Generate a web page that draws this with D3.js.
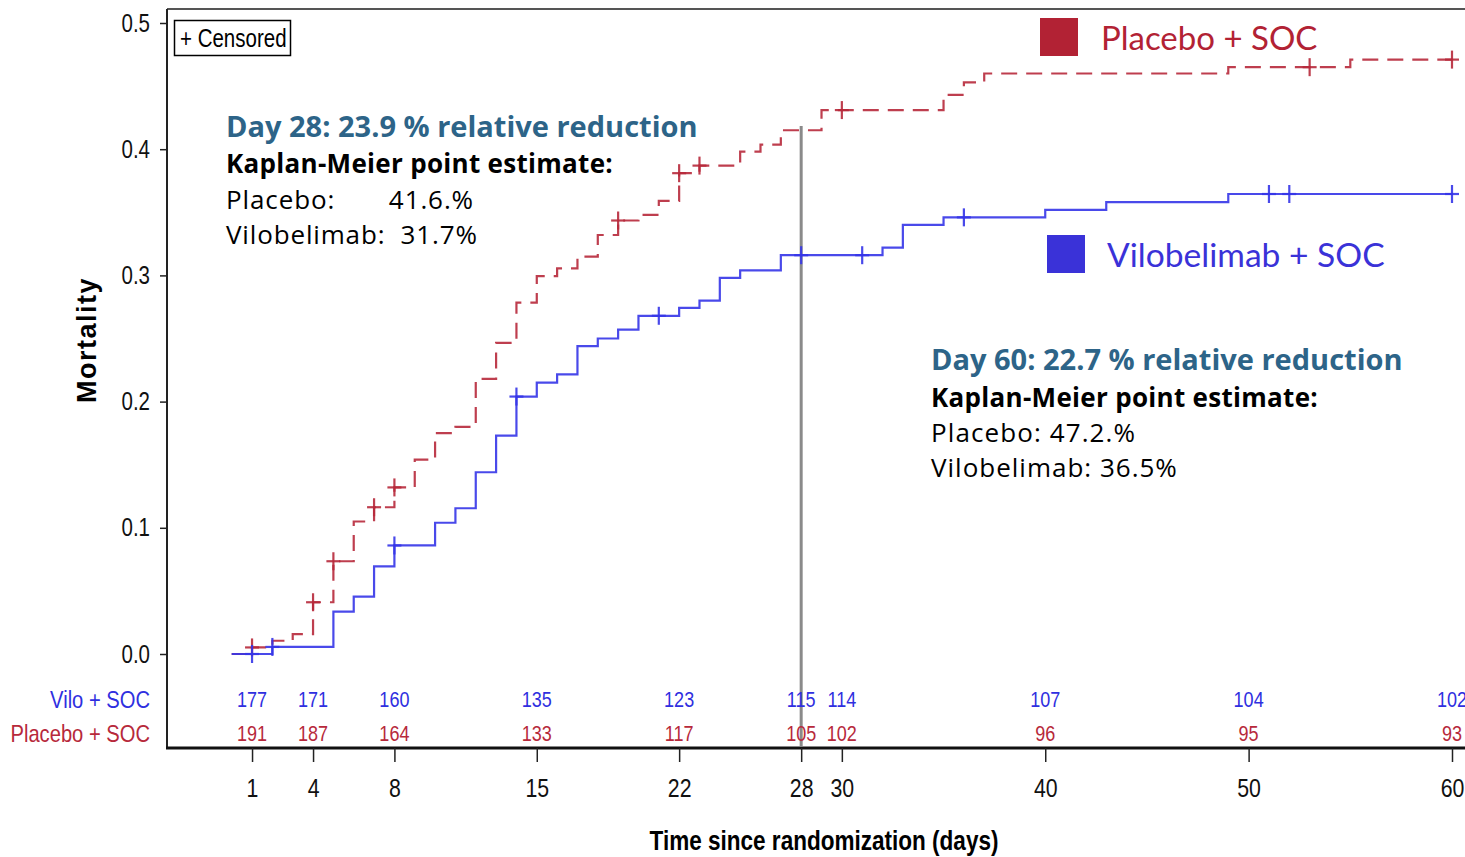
<!DOCTYPE html>
<html><head><meta charset="utf-8">
<script src="https://cdn.jsdelivr.net/npm/d3@7"></script>
<style>
html,body{margin:0;padding:0;background:#fff;}
svg{display:block;}
</style></head>
<body>
<svg id="c" width="1465" height="857"></svg>
<script>
// ---------- data ----------
const xTicks = [1, 4, 8, 15, 22, 28, 30, 40, 50, 60];
const yTicks = [0.0, 0.1, 0.2, 0.3, 0.4, 0.5];
const viloAtRisk    = [177, 171, 160, 135, 123, 115, 114, 107, 104, 102];
const placeboAtRisk = [191, 187, 164, 133, 117, 105, 102, 96, 95, 93];

// step events: day, cumulative mortality after the step
const viloDays = [0, 2, 5, 6, 7, 8, 10, 11, 12, 13, 14, 15, 16, 17, 18, 19, 20, 22, 23, 24, 25, 27, 32, 33, 35, 40, 43, 49, 60];
const viloVals = [0, 0.0056, 0.0336, 0.0455, 0.0695, 0.086, 0.104, 0.1155, 0.144, 0.173, 0.204, 0.215, 0.2215, 0.244, 0.250, 0.257, 0.268, 0.2743, 0.280, 0.298, 0.304, 0.316, 0.322, 0.340, 0.346, 0.352, 0.358, 0.3645, 0.3645];
const placeboDays = [0, 1, 2, 3, 4, 5, 6, 7, 8, 9, 10, 11, 12, 13, 14, 15, 16, 17, 18, 19, 20, 21, 22, 23, 25, 26, 27, 29, 35, 36, 37, 49, 55, 60];
const placeboVals = [0, 0.0052, 0.0105, 0.0157, 0.041, 0.0735, 0.105, 0.1163, 0.132, 0.154, 0.175, 0.180, 0.218, 0.2465, 0.2784, 0.2995, 0.3056, 0.3148, 0.332, 0.3435, 0.348, 0.359, 0.381, 0.387, 0.398, 0.4037, 0.415, 0.431, 0.443, 0.453, 0.460, 0.465, 0.471, 0.471];

const viloCensorDays = [1, 2, 8, 14, 21, 28, 31, 36, 51, 52, 60];
const viloCensorVals = [0, 0.0056, 0.086, 0.204, 0.268, 0.316, 0.316, 0.346, 0.3645, 0.3645, 0.3645];
const placeboCensorDays = [1, 4, 5, 7, 8, 19, 22, 23, 30, 53, 60];
const placeboCensorVals = [0.0052, 0.041, 0.0735, 0.1163, 0.132, 0.3435, 0.381, 0.387, 0.431, 0.465, 0.471];

const refDay = 28;

// ---------- styles ----------
const RED = "#B7293B", BLUE = "#3535E8";
const SANS = "'Liberation Sans',Arial,sans-serif";
const NARROW_K = 0.82;
const ANNO = "'Open Sans','Noto Sans',sans-serif";

const svg = d3.select("#c");
const x = d3.scaleLinear().domain([0, 60]).range([231.7, 1452]);
const y = d3.scaleLinear().domain([0, 0.5]).range([654, 23]);

const frame = {l: 167, t: 9, b: 748, r: 1475};

// narrow text helper (condensed Arial look)
function narrow(parent, tx, ty, txt, size, color, anchor, weight) {
  return parent.append("text")
    .attr("transform", `translate(${tx},${ty}) scale(${NARROW_K},1)`)
    .attr("dy", "0.35em").attr("text-anchor", anchor || "start")
    .attr("font-family", SANS).attr("font-size", size).attr("font-weight", weight || "normal")
    .attr("fill", color).text(txt);
}

// frame
svg.append("line").attr("x1", frame.l).attr("x2", frame.r).attr("y1", frame.t).attr("y2", frame.t)
  .attr("stroke", "#555").attr("stroke-width", 2);
svg.append("line").attr("x1", frame.l).attr("x2", frame.l).attr("y1", frame.t).attr("y2", frame.b)
  .attr("stroke", "#222").attr("stroke-width", 2);
svg.append("line").attr("x1", frame.l - 1).attr("x2", frame.r).attr("y1", frame.b).attr("y2", frame.b)
  .attr("stroke", "#111").attr("stroke-width", 3);

// y axis
const yAxis = d3.axisLeft(y).tickValues(yTicks).tickFormat(d3.format(".1f")).tickSize(7).tickPadding(0);
const gy = svg.append("g").attr("transform", `translate(${frame.l},0)`).call(yAxis);
gy.select(".domain").remove();
gy.selectAll("line").attr("stroke", "#222").attr("stroke-width", 1.5);
gy.selectAll("text").attr("x", null).attr("transform", `translate(-17,0) scale(${NARROW_K},1)`)
  .attr("font-family", SANS).attr("font-size", 25).attr("fill", "#111");

// x axis at bottom of frame
const xAxis = d3.axisBottom(x).tickValues(xTicks).tickFormat(d3.format("d")).tickSize(14).tickPadding(0);
const gx = svg.append("g").attr("transform", `translate(0,${frame.b})`).call(xAxis);
gx.select(".domain").remove();
gx.selectAll("line").attr("stroke", "#222").attr("stroke-width", 1.5);
gx.selectAll("text").attr("y", null).attr("dy", "0.35em")
  .attr("transform", `translate(0,40) scale(${NARROW_K},1)`)
  .attr("font-family", SANS).attr("font-size", 26).attr("fill", "#111");

// axis titles
narrow(svg, 824, 840, "Time since randomization (days)", 27.5, "#000", "middle", "bold");
svg.append("text").attr("transform", "translate(96,340) rotate(-90)").attr("text-anchor", "middle")
  .attr("font-family", SANS).attr("font-weight", "bold").attr("font-size", 27)
  .attr("letter-spacing", 1.5).attr("fill", "#000").text("Mortality");

// reference line at day 28
svg.append("line").attr("x1", x(refDay)).attr("x2", x(refDay)).attr("y1", 126).attr("y2", frame.b - 2)
  .attr("stroke", "#8a8a8a").attr("stroke-width", 3);

// step curves
const stepLine = d3.line().x(d => x(d[0])).y(d => y(d[1])).curve(d3.curveStepAfter);
const viloPts = viloDays.map((d, i) => [d, viloVals[i]]);
const placeboPts = placeboDays.map((d, i) => [d, placeboVals[i]]);

svg.append("path").datum(placeboPts).attr("d", stepLine).attr("fill", "none")
  .attr("stroke", RED).attr("stroke-width", 2.2).attr("stroke-dasharray", "16,9").attr("stroke-opacity", 0.9);
svg.append("path").datum(viloPts).attr("d", stepLine).attr("fill", "none")
  .attr("stroke", BLUE).attr("stroke-width", 2.2).attr("stroke-opacity", 0.9);

// censor marks
function censor(days, vals, color) {
  const g = svg.append("g").attr("stroke", color).attr("stroke-width", 2.2).attr("stroke-opacity", 0.9);
  days.forEach((d, i) => {
    const cx = x(d), cy = y(vals[i]);
    g.append("line").attr("x1", cx).attr("x2", cx).attr("y1", cy - 9).attr("y2", cy + 9);
    g.append("line").attr("x1", cx - 7).attr("x2", cx + 7).attr("y1", cy).attr("y2", cy);
  });
}
censor(placeboCensorDays, placeboCensorVals, RED);
censor(viloCensorDays, viloCensorVals, BLUE);

// at-risk table
const riskRows = [
  {label: "Vilo + SOC", vals: viloAtRisk, color: "#2F2FE0", y: 699},
  {label: "Placebo + SOC", vals: placeboAtRisk, color: "#B7293B", y: 733}
];
riskRows.forEach(r => {
  narrow(svg, 150, r.y, r.label, 24.6, r.color, "end");
  const g = svg.append("g");
  r.vals.forEach((v, i) => narrow(g, x(xTicks[i]), r.y, v, 22, r.color, "middle"));
});

// censored legend box
svg.append("rect").attr("x", 174.5).attr("y", 20.5).attr("width", 116).attr("height", 35)
  .attr("fill", "#fff").attr("stroke", "#000").attr("stroke-width", 1.5);
narrow(svg, 180, 38, "+ Censored", 25, "#000", "start");

// series legend
const legend = [
  {label: "Placebo + SOC", color: "#B22234", sx: 1040, sy: 18, tx: 1101, ty: 38, size: 33},
  {label: "Vilobelimab + SOC", color: "#3A32D8", sx: 1047, sy: 235, tx: 1107, ty: 255, size: 33.6}
];
legend.forEach(l => {
  svg.append("rect").attr("x", l.sx).attr("y", l.sy).attr("width", 38).attr("height", 38).attr("fill", l.color);
  svg.append("text").attr("x", l.tx).attr("y", l.ty).attr("dy", "0.35em")
    .attr("font-family", "'Lato','Open Sans',sans-serif").attr("font-size", l.size).attr("fill", l.color).text(l.label);
});

// annotations
function annot(x0, y0, lines) {
  lines.forEach((ln, i) => {
    svg.append("text").attr("x", x0).attr("y", y0 + ln.dy).attr("dy", "0.35em")
      .attr("font-family", ANNO).attr("font-size", ln.size).attr("font-weight", ln.bold ? "bold" : "normal")
      .attr("letter-spacing", ln.ls || 0)
      .attr("fill", ln.color).attr("xml:space", "preserve").style("white-space", "pre").text(ln.text);
  });
}
annot(226, 127, [
  {text: "Day 28: 23.9 % relative reduction", dy: 0, size: 29, bold: true, color: "#2D6488"},
  {text: "Kaplan-Meier point estimate:", dy: 37, size: 26, bold: true, color: "#000", ls: 0.3},
  {text: "Placebo:       41.6.%", dy: 73, size: 26, bold: false, color: "#000", ls: 0.9},
  {text: "Vilobelimab:  31.7%", dy: 108, size: 26, bold: false, color: "#000", ls: 0.85}
]);
annot(931, 360, [
  {text: "Day 60: 22.7 % relative reduction", dy: 0, size: 29, bold: true, color: "#2D6488"},
  {text: "Kaplan-Meier point estimate:", dy: 38, size: 26, bold: true, color: "#000", ls: 0.3},
  {text: "Placebo: 47.2.%", dy: 73, size: 26, bold: false, color: "#000", ls: 1.1},
  {text: "Vilobelimab: 36.5%", dy: 108, size: 26, bold: false, color: "#000", ls: 1.0}
]);
</script>
</body></html>
